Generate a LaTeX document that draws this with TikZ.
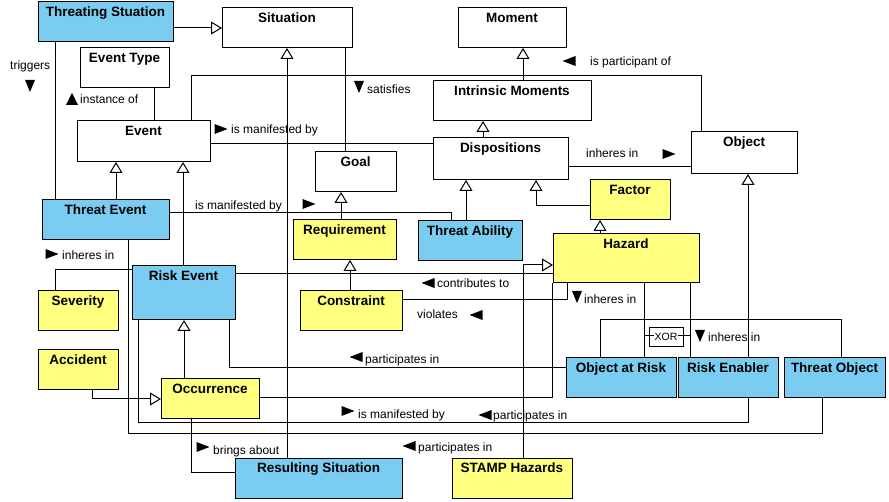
\documentclass[tikz,border=0pt]{standalone}
\usepackage{fontspec}
\setmainfont{Liberation Sans}
\usetikzlibrary{arrows.meta}
\definecolor{umlblue}{RGB}{122,204,240}
\definecolor{umlyellow}{RGB}{255,255,128}
\tikzset{
  clsbox/.style={draw, line width=1pt, inner sep=0pt, outer sep=0pt},
  ttl/.style={font=\fontsize{13.5}{15}\selectfont\bfseries, inner sep=0pt},
  lbl/.style={font=\fontsize{12}{14}\selectfont, inner sep=0pt, anchor=base west},
  conn/.style={line width=1pt},
  gen/.style={line width=1pt, -{Triangle[open, width=13pt, length=11pt]}},
  rarr/.pic={\fill (-6.5,-5) -- (6.5,0) -- (-6.5,5) -- cycle;},
  larr/.pic={\fill (6.5,-5) -- (-6.5,0) -- (6.5,5) -- cycle;},
  darr/.pic={\fill (-5,-6) -- (5,-6) -- (0,6) -- cycle;},
  uarr/.pic={\fill (-6,6) -- (6,6) -- (0,-6) -- cycle;},
}
\newcommand\umlcls[7]{%
  \node[clsbox, fill=#6, minimum width={#4pt-#2pt}, minimum height={#5pt-#3pt}] (#1) at ({(#2+#4)/2},{(#3+#5)/2}) {};
  \node[ttl, anchor=base] (#1-t) at ({(#2+#4)/2},{#3+14.5}) {#7};
}
\begin{document}
\begin{tikzpicture}[x=1pt,y=-1pt]
\useasboundingbox (0,0) rectangle (889,502);
\fill[white] (0,0) rectangle (889,502);
% classes
\umlcls{ts}{38}{2}{173}{42}{umlblue}{Threating Stuation}
\umlcls{sit}{222}{8}{352}{48}{white}{Situation}
\umlcls{et}{80}{48}{169}{88}{white}{Event Type}
\umlcls{ev}{77}{121}{210}{162}{white}{Event}
\umlcls{goal}{315}{152}{396}{192}{white}{Goal}
\umlcls{tev}{42}{200}{169}{240}{umlblue}{Threat Event}
\umlcls{req}{293}{220}{396}{260}{umlyellow}{Requirement}
\umlcls{ta}{418}{221}{522}{261}{umlblue}{Threat Ability}
\umlcls{mom}{458}{8}{566}{48}{white}{Moment}
\umlcls{im}{433}{81}{591}{121}{white}{Intrinsic Moments}
\umlcls{disp}{433}{138}{568}{180}{white}{Dispositions}
\umlcls{obj}{691}{132}{797}{174}{white}{Object}
\umlcls{fac}{590}{180}{670}{220}{umlyellow}{Factor}
\umlcls{haz}{553}{234}{699}{283}{umlyellow}{Hazard}
\umlcls{rev}{132}{266}{235}{320}{umlblue}{Risk Event}
\umlcls{sev}{38}{291}{118}{331}{umlyellow}{Severity}
\umlcls{con}{300}{291}{402}{331}{umlyellow}{Constraint}
\umlcls{acc}{38}{350}{118}{390}{umlyellow}{Accident}
\umlcls{occ}{161}{379}{259}{419}{umlyellow}{Occurrence}
\umlcls{rs}{235}{458}{402}{498}{umlblue}{Resulting Situation}
\umlcls{oar}{566}{358}{676}{398}{umlblue}{Object at Risk}
\umlcls{ren}{678}{358}{778}{398}{umlblue}{Risk Enabler}
\umlcls{tob}{784}{358}{885}{398}{umlblue}{Threat Object}
\umlcls{stamp}{452}{458}{572}{498}{umlyellow}{STAMP Hazards}
% associations
\draw[conn] (ts.south -| 55,0) -- (tev.north -| 55,0);
\draw[conn] (et.south -| 154,0) -- (ev.north -| 154,0);
\draw[conn] (ev.north -| 191,0) -- (191,76) -- (701,76) -- (obj.north -| 701,0);
\draw[conn] (ev.east |- 0,144) -- (disp.west |- 0,144);
\draw[conn] (sit.south -| 345,0) -- (goal.north -| 345,0);
\draw[conn] (disp.east |- 0,167) -- (obj.west |- 0,167);
\draw[conn] (tev.east |- 0,213) -| (ta.north -| 451,0);
\draw[conn] (oar.north -| 600,0) -- (600,320) -- (841,320) -- (tob.north -| 841,0);
\draw[conn] (haz.south -| 644,0) -- (oar.north -| 644,0);
\draw[conn] (haz.south -| 690,0) -- (ren.north -| 690,0);
\draw[conn] (rev.east |- 0,274) -- (haz.west |- 0,274);
\draw[conn] (rev.south -| 229,0) |- (oar.west |- 0,368);
\draw[conn] (rev.south -| 138,0) -- (138,423) -- (748,423) -- (ren.south -| 748,0);
\draw[conn] (occ.east |- 0,398) -| (haz.south -| 552,0);
\draw[conn] (tev.south -| 128,0) -- (128,434) -- (822,434) -- (tob.south -| 822,0);
\draw[conn] (sev.north -| 55,0) |- (rev.west |- 0,270);
\draw[conn] (occ.south -| 191,0) |- (rs.west |- 0,472);
\draw[conn] (con.east |- 0,300) -| (haz.south -| 567,0);
% generalizations
\draw[gen] (ts.east |- 0,28) -- (sit.west |- 0,28);
\draw[gen] (im.north -| 523,0) -- (mom.south -| 523,0);
\draw[gen] (disp.north -| 483,0) -- (im.south -| 483,0);
\draw[gen] (tev.north -| 116,0) -- (ev.south -| 116,0);
\draw[gen] (rev.north -| 183,0) -- (ev.south -| 183,0);
\draw[gen] (rs.north -| 287,0) -- (sit.south -| 287,0);
\draw[gen] (req.north -| 341,0) -- (goal.south -| 341,0);
\draw[gen] (ta.north -| 466,0) -- (disp.south -| 466,0);
\draw[gen] (fac.west |- 0,206) -| (disp.south -| 536,0);
\draw[gen] (haz.north -| 600,0) -- (fac.south -| 600,0);
\draw[gen] (ren.north -| 748,0) -- (obj.south -| 748,0);
\draw[gen] (stamp.north -| 523,0) |- (haz.west |- 0,265);
\draw[gen] (acc.south -| 92,0) |- (occ.west |- 0,399);
\draw[gen] (occ.north -| 184,0) -- (rev.south -| 184,0);
\draw[gen] (con.north -| 350,0) -- (req.south -| 350,0);
% XOR constraint
\coordinate (xl) at (644,336);
\coordinate (xr) at (690,336);
\draw[conn] (xl) -- (xr);
\node[draw, line width=0.8pt, minimum width=34pt, minimum height=19pt, inner sep=0pt] (xorbox) at (666,336.5) {};
\node[fill=white, inner sep=0.5pt, font=\fontsize{10.5}{12}\selectfont] (xor) at (666,336.5) {XOR};
% labels
\node[lbl] (l1) at (10,70) {triggers};
\pic at (30,86) {darr};
\pic at (72,99) {uarr};
\node[lbl] (l2) at (80,104) {instance of};
\pic at (221,129) {rarr};
\node[lbl] (l3) at (231,134) {is manifested by};
\pic at (359,87) {darr};
\node[lbl] (l4) at (367,94) {satisfies};
\pic at (569,61) {larr};
\node[lbl] (l5) at (590,66) {is participant of};
\node[lbl] (l6) at (586,158) {inheres in};
\pic at (669,154) {rarr};
\node[lbl] (l7) at (195,210) {is manifested by};
\pic at (309,204) {rarr};
\pic at (52,254) {rarr};
\node[lbl] (l8) at (62,260) {inheres in};
\pic at (428,283) {larr};
\node[lbl] (l9) at (437,288) {contributes to};
\pic at (577,297) {darr};
\node[lbl] (l10) at (584,304) {inheres in};
\node[lbl] (l11) at (417,319) {violates};
\pic at (476,315) {larr};
\pic at (700,336) {darr};
\node[lbl] (l12) at (708,342) {inheres in};
\pic at (356,357) {larr};
\node[lbl] (l13) at (365,364) {participates in};
\pic at (348,411) {rarr};
\node[lbl] (l14) at (358,418) {is manifested by};
\pic at (485,415) {larr};
\node[lbl] (l15) at (493,420) {participates in};
\pic at (409,446) {larr};
\node[lbl] (l16) at (418,451) {participates in};
\pic at (203,447) {rarr};
\node[lbl] (l17) at (213,454) {brings about};
\end{tikzpicture}
\end{document}
